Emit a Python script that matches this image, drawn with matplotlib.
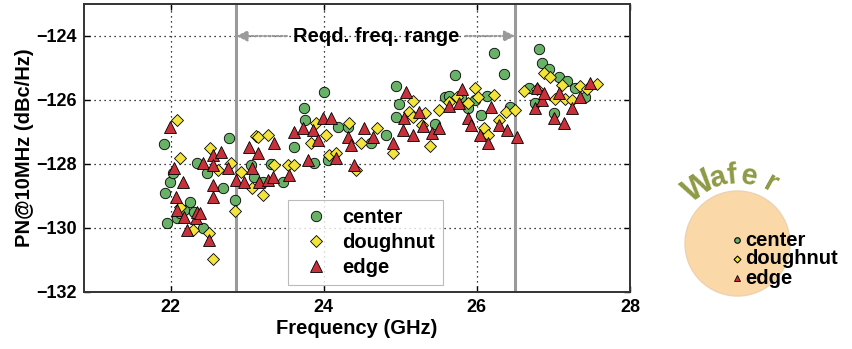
import numpy as np
import matplotlib.pyplot as plt
from matplotlib.patches import Circle

plt.rcParams['font.family'] = ['Liberation Sans', 'DejaVu Sans']
plt.rcParams['font.weight'] = 'bold'

# frequency (GHz) and phase noise (dBc/Hz) per wafer region
center_f = [21.91, 21.93, 21.96, 21.99, 22.03, 22.09, 22.12, 22.17, 22.26, 22.30,
            22.35, 22.42, 22.48, 22.69, 22.77, 22.84, 23.05, 23.09, 23.21, 23.31,
            23.47, 23.61, 23.74, 23.76, 23.87, 24.01, 24.06, 24.19, 24.32, 24.62,
            24.82, 24.95, 24.98, 24.95, 25.45, 25.58, 25.64, 25.71, 25.79, 25.89,
            25.98, 26.06, 26.13, 26.23, 26.35, 26.43, 26.68, 26.76, 26.81, 26.85,
            26.94, 27.01, 27.07, 27.18, 27.28, 27.41]
center_pn = [-127.38, -128.91, -129.84, -128.56, -128.28, -129.69, -129.53, -129.44, -129.19, -129.50,
             -127.97, -130.00, -128.28, -128.75, -127.19, -129.13, -128.03, -128.41, -128.56, -128.00,
             -128.56, -127.47, -126.25, -126.63, -127.97, -125.75, -127.88, -126.84, -126.84, -127.34,
             -127.09, -125.56, -126.13, -126.53, -126.75, -125.91, -125.88, -125.22, -125.91, -126.25,
             -126.00, -126.47, -125.88, -124.53, -125.19, -126.22, -125.63, -126.09, -124.41, -124.84,
             -125.03, -126.41, -125.28, -125.41, -125.63, -125.91]

doughnut_f = [22.09, 22.12, 22.13, 22.29, 22.50, 22.56, 22.52, 22.62, 22.79, 22.84,
              22.92, 23.07, 23.11, 23.14, 23.21, 23.27, 23.35, 23.53, 23.61, 23.83,
              23.90, 24.03, 24.07, 24.16, 24.33, 24.42, 24.49, 24.69, 24.91, 25.11,
              25.17, 25.32, 25.17, 25.28, 25.39, 25.50, 25.63, 25.74, 25.89, 25.98,
              26.02, 26.09, 26.15, 26.23, 26.29, 26.38, 26.50, 26.61, 26.78, 26.88,
              26.95, 27.02, 27.11, 27.15, 27.24, 27.35, 27.44, 27.57]
doughnut_pn = [-126.63, -127.81, -129.34, -130.06, -130.16, -130.97, -127.50, -128.19, -127.97, -129.47,
               -128.25, -128.75, -127.13, -127.16, -128.97, -127.09, -128.03, -128.03, -128.03, -127.34,
               -126.72, -127.09, -127.72, -127.66, -126.72, -128.19, -127.34, -126.88, -127.66, -126.38,
               -126.03, -126.41, -126.53, -126.78, -127.44, -126.31, -126.06, -125.91, -126.09, -125.63,
               -125.91, -126.88, -127.09, -125.84, -126.63, -126.38, -126.31, -125.72, -125.66, -125.16,
               -125.28, -125.97, -125.53, -125.97, -126.00, -125.56, -125.66, -125.50]

edge_f = [21.99, 22.04, 22.07, 22.09, 22.16, 22.17, 22.22, 22.33, 22.35, 22.39,
          22.43, 22.50, 22.55, 22.56, 22.56, 22.56, 22.66, 22.75, 22.85, 22.96,
          23.02, 23.07, 23.14, 23.15, 23.27, 23.34, 23.35, 23.55, 23.61, 23.73,
          23.80, 23.86, 23.93, 23.99, 24.10, 24.16, 24.32, 24.36, 24.40, 24.53,
          24.65, 24.91, 25.08, 25.05, 25.04, 25.17, 25.24, 25.30, 25.41, 25.51,
          25.64, 25.80, 25.77, 25.89, 25.93, 26.04, 26.15, 26.19, 26.29, 26.39,
          26.52, 26.76, 26.78, 26.85, 26.88, 27.01, 27.07, 27.14, 27.24, 27.35, 27.48]
edge_pn = [-126.84, -128.13, -129.03, -129.44, -128.56, -129.66, -130.06, -129.69, -129.50, -129.53,
           -127.97, -130.38, -127.72, -128.03, -128.66, -129.03, -127.63, -128.13, -128.50, -128.56,
           -127.47, -128.13, -127.66, -128.56, -128.50, -128.41, -127.34, -128.34, -127.00, -126.88,
           -127.88, -126.94, -127.25, -126.56, -126.56, -127.81, -127.16, -127.41, -128.03, -126.88,
           -127.16, -127.34, -125.75, -126.56, -126.94, -127.09, -126.38, -126.81, -127.03, -126.88,
           -126.19, -125.66, -126.09, -126.56, -126.78, -127.09, -127.34, -126.22, -126.78, -126.94,
           -127.16, -126.25, -125.63, -126.00, -125.78, -126.56, -125.78, -126.72, -126.25, -125.91, -125.47]

band_lo, band_hi = 22.86, 26.5
xticks = [22, 24, 26, 28]
yticks = [-132, -130, -128, -126, -124]

green = '#68b268'
yellow = '#f2e43a'
red = '#c8303a'

fig = plt.figure(figsize=(8.52, 3.49), dpi=100)
ax = fig.add_axes([84/852, 1-292/349, 546/852, 288/349])

ax.plot(center_f, center_pn, 'o', ms=7.5, mfc=green, mec='k', mew=0.6, label='center', zorder=3)
ax.plot(doughnut_f, doughnut_pn, 'D', ms=6.2, mfc=yellow, mec='k', mew=0.6, label='doughnut', zorder=3)
ax.plot(edge_f, edge_pn, '^', ms=8, mfc=red, mec='k', mew=0.6, label='edge', zorder=3)

ax.axvline(band_lo, color='#9a9a9a', lw=2.2, zorder=2)
ax.axvline(band_hi, color='#9a9a9a', lw=2.2, zorder=2)

ax.text(24.69, -124, 'Reqd. freq. range', ha='center', va='center', fontsize=14.5, fontweight='bold')
ax.annotate('', xy=(band_lo, -124), xytext=(23.52, -124),
            arrowprops=dict(arrowstyle='-|>', color='#9a9a9a', lw=1.5, ls=(0, (1, 1)),
                            mutation_scale=16, shrinkA=0, shrinkB=0))
ax.annotate('', xy=(band_hi, -124), xytext=(25.85, -124),
            arrowprops=dict(arrowstyle='-|>', color='#9a9a9a', lw=1.5, ls=(0, (1, 1)),
                            mutation_scale=16, shrinkA=0, shrinkB=0))

ax.set_xlim(20.87, 28)
ax.set_ylim(-132, -123)
ax.set_xticks(xticks)
ax.set_yticks(yticks)
ax.set_yticklabels(['\u2212%d' % abs(v) for v in yticks])
ax.grid(True, color='k', ls=(0, (1, 3)), lw=0.9)
ax.tick_params(direction='in', top=True, right=True, labelsize=13, length=4, width=1, pad=5)
for s in ax.spines.values():
    s.set_linewidth(1.4)
    s.set_color('#333333')
ax.set_xlabel('Frequency (GHz)', fontsize=14.5, fontweight='bold', labelpad=2)
ax.set_ylabel('PN@10MHz (dBc/Hz)', fontsize=14.5, fontweight='bold', labelpad=2)

leg = ax.legend(loc='lower left', bbox_to_anchor=(0.3736, 0.024), borderaxespad=0,
                fontsize=14.5, frameon=True, fancybox=False, edgecolor='#aaaaaa',
                handlelength=2.0, handletextpad=0.3, borderpad=0.4, labelspacing=0.3)
leg.get_frame().set_linewidth(0.8)

# wafer sketch
wx = fig.add_axes([670/852, 29/349, 182/852, 180/349])
wx.set_xlim(0, 182)
wx.set_ylim(0, 180)
wx.axis('off')
wx.add_patch(Circle((67.5, 76.5), 52.5, facecolor='#fbd8a8', edgecolor='#ecd2b0', lw=1))
letters = ['W', 'a', 'f', 'e', 'r']
angles = [124, 107, 95, 80, 61]
sizes = [24, 21, 21, 21, 21]
for ch, a, sz in zip(letters, angles, sizes):
    r = 68
    wx.text(67.5 + r*np.cos(np.radians(a)), 76.5 + r*np.sin(np.radians(a)), ch,
            rotation=a-90, ha='center', va='center', fontsize=sz, fontweight='bold', color='#8e9a45')
wx.plot([67], [80], 'o', ms=4, mfc=green, mec='k', mew=0.8)
wx.plot([67], [61], 'D', ms=3.5, mfc=yellow, mec='k', mew=0.8)
wx.plot([67], [42], '^', ms=4.5, mfc=red, mec='k', mew=0.6)
wx.text(75, 80, 'center', va='center', fontsize=14.5, fontweight='bold')
wx.text(75, 61, 'doughnut', va='center', fontsize=14.5, fontweight='bold')
wx.text(75, 42, 'edge', va='center', fontsize=14.5, fontweight='bold')

fig.savefig('out.png', dpi=100)
